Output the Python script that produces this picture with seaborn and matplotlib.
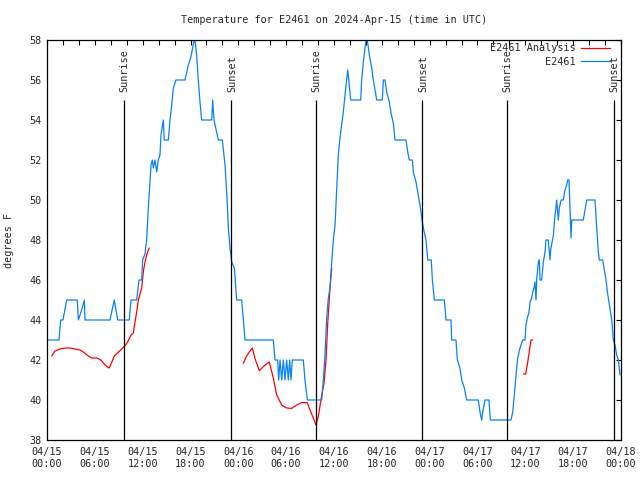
import matplotlib
matplotlib.use("Agg")
import matplotlib.pyplot as plt
from matplotlib.lines import Line2D
import seaborn as sns
import pandas as pd

# Observed temperature (hours since 04/15 00:00 UTC, degrees F)
blue_hours = [0.0, 1.5, 1.72, 2.0, 2.47, 3.8, 3.93, 4.35, 4.68, 4.77, 7.9, 8.44, 8.87,
              10.32, 10.54, 11.25, 11.54, 11.88, 12.0, 12.29, 12.5, 12.71, 12.84, 13.05,
              13.21, 13.34, 13.55, 13.76, 13.96, 14.17, 14.3, 14.5, 14.59, 14.71, 15.22,
              15.43, 15.64, 15.85, 16.18, 17.31, 17.73, 18.02, 18.27, 18.44, 18.56, 18.77,
              18.98, 19.19, 19.4, 20.66, 20.78, 20.95, 21.28, 21.49, 21.99, 22.33, 22.54,
              22.75, 22.96, 23.17, 23.5, 23.79, 24.42, 24.63, 24.84, 28.39, 28.6, 28.93,
              29.06, 29.23, 29.44, 29.64, 29.85, 30.06, 30.27, 30.44, 30.6, 30.77, 32.15,
              32.36, 32.66, 34.46, 34.66, 34.87, 35.08, 35.29, 35.5, 35.71, 35.92, 36.13,
              36.25, 36.42, 36.54, 36.75, 36.96, 37.17, 37.38, 37.59, 37.72, 37.88, 38.09,
              39.35, 39.47, 39.68, 39.89, 40.01, 40.18, 40.43, 40.73, 40.93, 41.36, 42.06,
              42.19, 42.4, 42.61, 42.94, 43.15, 43.44, 43.65, 45.03, 45.25, 45.45, 45.83,
              45.95, 46.29, 46.5, 46.79, 47.0, 47.21, 47.54, 47.76, 48.2, 48.34, 48.59,
              49.84, 50.05, 50.68, 50.76, 51.3, 51.47, 51.8, 52.02, 52.35, 52.64, 54.1,
              54.31, 54.52, 54.65, 54.94, 55.44, 55.61, 58.2, 58.42, 58.62, 58.83, 59.04,
              59.33, 59.67, 59.96, 60.08, 60.25, 60.46, 60.59, 60.8, 60.92, 61.09, 61.21,
              61.34, 61.42, 61.63, 61.76, 61.84, 62.05, 62.26, 62.47, 62.59, 62.88, 63.1,
              63.18, 63.52, 63.72, 63.85, 63.93, 64.14, 64.26, 64.48, 64.76, 64.97, 65.19,
              65.31, 65.48, 65.6, 65.73, 65.82, 67.27, 67.49, 67.7, 68.74, 68.95, 69.16,
              69.28, 69.7, 69.87, 70.12, 70.29, 70.41, 70.62, 70.84, 71.04, 71.25, 71.46,
              71.67, 71.88]
blue_temps = [43, 43, 44, 44, 45, 45, 44, 44.5, 45, 44, 44, 45, 44,
              44, 45, 45, 46, 46, 47, 47.3, 48, 49.6, 50.4, 51.75,
              52, 51.6, 52, 51.4, 52, 52.25, 53.25, 53.75, 54, 53, 53,
              54, 54.75, 55.6, 56, 56, 56.75, 57.1, 57.6, 58, 58, 57.25,
              56, 54.9, 54, 54, 55, 54, 53.4, 53, 53, 51.75, 50.4,
              48.6, 47.6, 46.9, 46.6, 45, 45, 44, 43, 43, 42, 42,
              41, 42, 41, 42, 41, 42, 41, 42, 41, 42, 42,
              41, 40, 40, 41, 42.25, 44.1, 45.1, 45.6, 46.9, 48, 48.75,
              49.75, 51.25, 52.25, 53.1, 53.75, 54.4, 55.25, 56, 56.5, 55.9, 55,
              55, 56, 56.9, 57.6, 58, 58, 57.25, 56.6, 56, 55, 55,
              56, 56, 55.4, 54.9, 54.35, 53.85, 53, 53, 52.4, 52, 52,
              51.4, 50.9, 50.4, 49.75, 49.1, 48.6, 48, 47, 47, 46, 45,
              45, 44, 44, 43, 43, 42, 41.6, 41, 40.6, 40, 40,
              39.4, 39, 39.4, 40, 40, 39, 39, 39.4, 40.25, 41.25, 42.1,
              42.6, 43, 43, 43.75, 44.1, 44.4, 44.9, 45.1, 45.4, 45.6, 45.9,
              45, 46, 46.9, 47, 46, 46, 46.9, 47.4, 48, 48, 47,
              47.5, 48.25, 49.25, 49.6, 50, 49, 49.6, 50, 50, 50.5, 50.75,
              51, 51, 49.6, 48.1, 49, 49, 49.5, 50, 50, 48.6, 47.4,
              47, 47, 46.6, 46, 45.4, 45.1, 44.6, 44, 43, 42.75, 42.25,
              42, 41.25]

# Analysis series, three separate segments
red_hours = [0.59, 1.0, 1.63, 2.26, 2.89, 3.51, 4.14, 4.56, 5.18, 5.6, 6.23, 6.77,
             7.28, 7.78, 8.03, 8.44, 8.87, 9.37, 9.7, 10.12, 10.54, 10.83, 11.04,
             11.25, 11.46, 11.88, 12.08, 12.29, 12.5, 12.71, 12.84,
             24.62, 25.03, 25.75, 26.15, 26.63, 27.22, 27.88, 28.39, 28.81, 29.44,
             30.07, 30.69, 31.32, 31.95, 32.65, 32.99, 33.4, 33.74, 34.03, 34.46,
             34.75, 35.0, 35.21, 35.5, 35.71,
             59.75, 60.05, 60.34, 60.71, 60.92]
red_temps = [42.2, 42.45, 42.55, 42.6, 42.6, 42.55, 42.5, 42.4, 42.2, 42.1, 42.1, 42.0,
             41.75, 41.6, 41.8, 42.2, 42.35, 42.55, 42.67, 42.9, 43.25, 43.35, 43.9,
             44.4, 45.0, 45.6, 46.4, 46.9, 47.25, 47.5, 47.6,
             41.83, 42.2, 42.6, 42.0, 41.47, 41.7, 41.9, 41.1, 40.25, 39.75,
             39.6, 39.58, 39.75, 39.87, 39.87, 39.5, 39.1, 38.75, 39.17, 40.25,
             40.83, 42.0, 43.83, 45.6, 46.6,
             41.3, 41.3, 42.0, 43.0, 43.0]
red_seg = [1] * 31 + [2] * 25 + [3] * 5

sun_hours = [9.66, 23.1, 33.75, 47.05, 57.7, 71.1]
sun_labels = ["Sunrise", "Sunset", "Sunrise", "Sunset", "Sunrise", "Sunset"]

xtick_hours = list(range(0, 73, 6))
xtick_labels = ["04/15\n00:00", "04/15\n06:00", "04/15\n12:00", "04/15\n18:00",
                "04/16\n00:00", "04/16\n06:00", "04/16\n12:00", "04/16\n18:00",
                "04/17\n00:00", "04/17\n06:00", "04/17\n12:00", "04/17\n18:00",
                "04/18\n00:00"]

RED = "#ff0000"
BLUE = "#0a80f5"

sns.set_style("white")
plt.rcParams['font.family'] = ['DejaVu Sans Mono']
plt.rcParams['font.size'] = 7.3

blue_df = pd.DataFrame({"hour": blue_hours, "temp": blue_temps})
red_df = pd.DataFrame({"hour": red_hours, "temp": red_temps, "seg": red_seg})

fig = plt.figure(figsize=(6.4, 4.8), dpi=100)
ax = fig.add_axes([47 / 640, 40 / 480, 574 / 640, 400 / 480])

sns.lineplot(data=red_df, x="hour", y="temp", units="seg", estimator=None,
             color=RED, linewidth=0.9, ax=ax, legend=False, sort=False)
sns.lineplot(data=blue_df, x="hour", y="temp", color=BLUE, linewidth=0.9,
             ax=ax, legend=False, sort=False)

# Sunrise / sunset markers
ax.vlines(sun_hours, 38, 55, color="black", linewidth=0.9)
for h, lab in zip(sun_hours, sun_labels):
    ax.text(h + 0.1, 55.4, lab, rotation=90, ha="center", va="bottom", fontsize=7.3)

ax.set_xlim(0, 72)
ax.set_ylim(38, 58)
ax.set_xticks(xtick_hours)
ax.set_xticklabels(xtick_labels)
ax.set_xticks(range(0, 73, 2), minor=True)
ax.set_yticks(range(38, 59, 2))
ax.tick_params(axis="both", which="both", direction="in", top=True, right=True,
               length=3.5, width=0.8, color="black", labelsize=7.3)
ax.tick_params(axis="x", which="major", pad=5)
ax.tick_params(axis="y", which="major", pad=4)
for s in ax.spines.values():
    s.set_color("black")
    s.set_linewidth(0.9)

ax.set_xlabel("")
ax.set_ylabel("degrees F", fontsize=7.3)
ax.yaxis.set_label_coords(-0.058, 0.5)

handles = [Line2D([], [], color=RED, linewidth=0.9),
           Line2D([], [], color=BLUE, linewidth=0.9)]
ax.legend(handles, ["E2461 Analysis", "E2461"], loc="upper right", markerfirst=False,
          bbox_to_anchor=(1 - 7 / 574, 1 + 1 / 400),
          frameon=False, handlelength=2.9, handletextpad=0.5, labelspacing=0.35,
          borderaxespad=0.2, borderpad=0.2, fontsize=7.3)

fig.text(334 / 640, 1 - 20 / 480, "Temperature for E2461 on 2024-Apr-15 (time in UTC)",
         ha="center", va="center", fontsize=7.3)

fig.savefig("out.png", dpi=100)
